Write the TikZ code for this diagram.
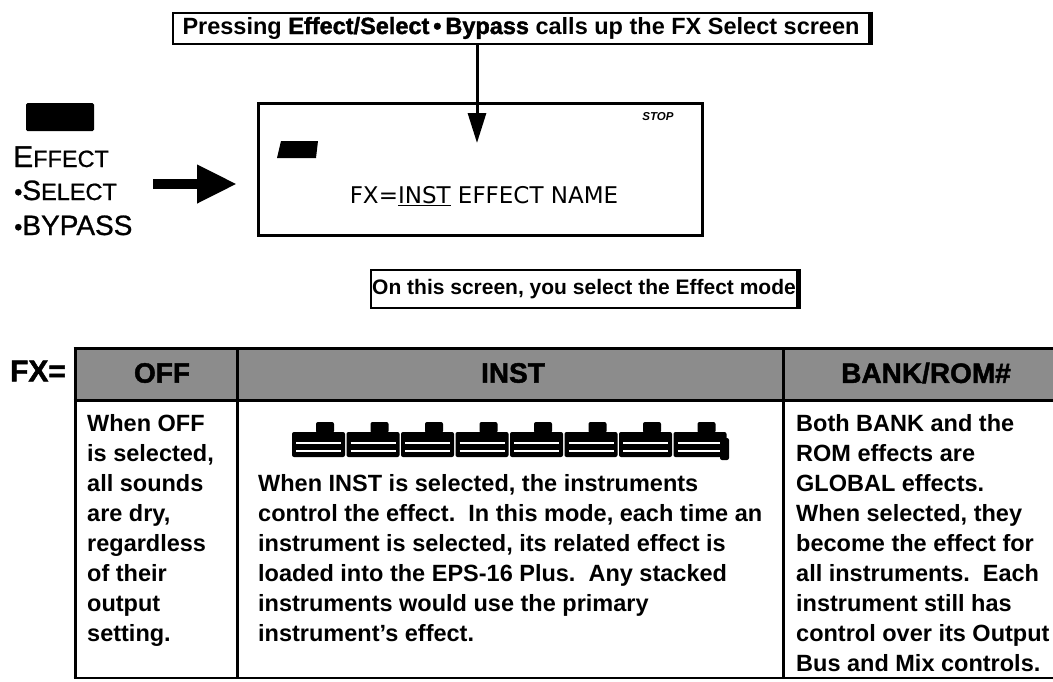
\documentclass[tikz,border=0pt]{standalone}
\usepackage{fontspec}
\setmainfont{Liberation Sans}
\newfontfamily\heavy[FakeBold=1.6]{Liberation Sans Bold}
\newfontfamily\medfont[FakeBold=0.9]{Liberation Sans}
\newfontfamily\lcdfont{DejaVu Sans}
\usetikzlibrary{arrows.meta}

\newcommand{\fsz}[1]{\fontsize{#1}{#1}\selectfont}

\begin{document}
\begin{tikzpicture}[x=1pt,y=-1pt,
  caption/.style={draw, line width=2pt, fill=white, inner sep=0pt,
    font=\bfseries\fsz{21}},
  body/.style={anchor=base west, inner sep=0pt, font=\bfseries\fsz{23.5}},
  hdr/.style={inner sep=0pt, font=\heavy\fsz{28}},
  keytext/.style={anchor=base west, inner sep=0pt, font=\medfont\fsz{23.5}},
  rule/.style={line width=3pt},
  hdrfill/.style={fill=black!45},
  car/.style={fill=black, rounded corners=2pt}
]
\useasboundingbox (0,0) rectangle (1053,681);

% ---- caption above the display
\node[caption, minimum width=696pt, minimum height=31pt, font=\bfseries\fsz{23.5}] (top) at (521,28)
  {Pressing {\heavy Effect/Select\,•\,Bypass} calls up the FX Select screen};
\draw[line width=3pt] ([xshift=1pt]top.north east) -- ([xshift=1pt]top.south east);

% ---- LCD display
\node[draw, line width=3pt, minimum width=444pt, minimum height=132pt] (screen) at (480,169) {};
\node[inner sep=0pt, font=\bfseries\itshape\fsz{11.5}] (stop) at (658,117) {STOP};
\fill (281,141) -- (318,141) -- (316,158) -- (277,158) -- cycle;
\node[anchor=base, inner sep=0pt, font=\lcdfont\fsz{23}] (lcd) at (484,203)
  {FX=\underline{INST} EFFECT NAME};

\coordinate (dtip) at (477,143);
\draw[line width=3pt, -{Triangle[length=30pt,width=18pt]}] (top.south -| dtip) -- (dtip);

% ---- front panel button
\node[fill=black, minimum width=68pt, minimum height=28pt, inner sep=0pt, rounded corners=1.5pt] (key) at (60,117) {};
\node[keytext] (keyl1) at (13,167) {\fsz{30}E\fsz{23.5}FFECT};
\node[keytext] (keyl2) at (14,200) {•\fsz{28}S\fsz{23.5}ELECT};
\node[keytext] (keyl3) at (14,235) {•\fsz{28}BYPASS};

\coordinate (rs) at (153,184);
\coordinate (rt) at (237,184);
\draw[line width=10pt, -{Triangle[length=40pt,width=36pt]}] (rs) -- (rt);

% ---- caption below the display
\node[caption, minimum width=426pt, minimum height=38pt] (mode) at (584,289)
  {On this screen, you select the Effect mode};
\draw[line width=3pt] ([xshift=1pt]mode.north east) -- ([xshift=1pt]mode.south east);

% ---- table of effect modes
\fill[hdrfill] (75,348) rectangle (1053,400);
\draw[rule] (73.5,348) -- (1053,348);
\draw[rule] (73.5,400) -- (1053,400);
\draw[line width=2.5pt] (73.5,678) -- (1053,678);
\draw[rule] (75,348) -- (75,679);
\draw[rule] (237,348) -- (237,679);
\draw[rule] (783,348) -- (783,679);

\node[inner sep=0pt, font=\heavy\fsz{30}] (fx) at (38,371) {FX=};
\node[hdr] (hoff) at (162,373) {OFF};
\node[hdr] (hinst) at (513,373) {INST};
\node[hdr] (hbank) at (926,373) {BANK/ROM\#};

% train of instruments
\foreach \i in {0,...,7} {
  \pgfmathsetmacro{\cx}{292+54.5*\i}
  \fill[car] (\cx,432) rectangle (\cx+53,457);
  \fill[car] (\cx+24,422) rectangle (\cx+42,433);
  \draw[white, line width=1.2pt] (\cx+4,443) -- (\cx+49,443);
  \draw[white, line width=1.2pt] (\cx+4,451) -- (\cx+49,451);
}
\fill[car] (720,438) rectangle (729,460);

\foreach [count=\i] \t in {When OFF, {is selected,}, all sounds, {are dry,},
    regardless, of their, output, setting.} {
  \node[body] (off\i) at (87,{431+30*(\i-1)}) {\t};
}
\foreach [count=\i] \t in {{When INST is selected, the instruments},
    {control the effect.\ \ In this mode, each time an},
    {instrument is selected, its related effect is},
    {loaded into the EPS-16 Plus.\ \ Any stacked},
    {instruments would use the primary},
    {instrument's effect.}} {
  \node[body] (inst\i) at (258,{491+30*(\i-1)}) {\t};
}
\foreach [count=\i] \t in {Both BANK and the, ROM effects are, GLOBAL effects.,
    {When selected, they}, become the effect for, {all instruments.\ \ Each},
    instrument still has, control over its Output, Bus and Mix controls.} {
  \node[body] (bank\i) at (796,{431+30*(\i-1)}) {\t};
}
\end{tikzpicture}
\end{document}
